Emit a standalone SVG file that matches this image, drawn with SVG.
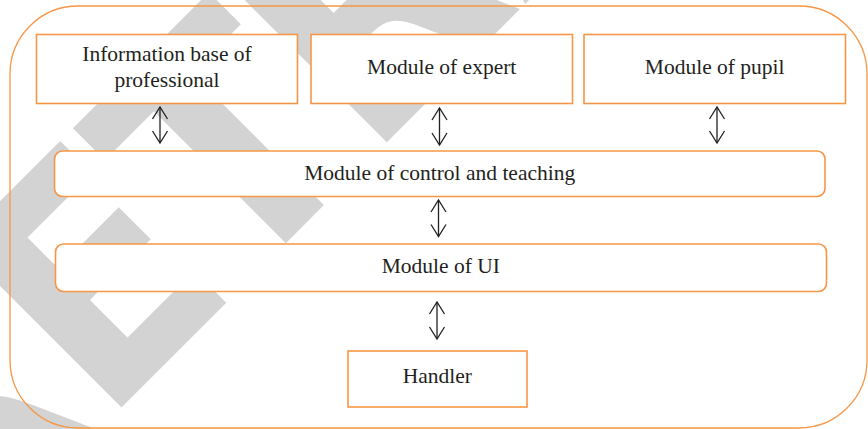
<svg xmlns="http://www.w3.org/2000/svg" width="868" height="429" viewBox="0 0 868 429">
  <style>
    .bg { fill: #ffffff; }
    .stamp { font-family: "DejaVu Sans", "Liberation Sans", sans-serif; font-weight: bold; font-size: 318px; fill: #d3d3d3; }
    .frame { fill: none; stroke: #f79646; stroke-width: 1.3; }
    .box { fill: #ffffff; stroke: #f79646; stroke-width: 1.6; }
    .label { font-family: "Liberation Serif", "Times New Roman", serif; font-size: 21.5px; fill: #231f20; text-anchor: middle; }
    .link { fill: none; stroke: #231f20; stroke-width: 1.3; marker-start: url(#head); marker-end: url(#head); }
  </style>
  <defs>
    <marker id="head" markerUnits="userSpaceOnUse" viewBox="-14 -9 16 18" markerWidth="16" markerHeight="18" refX="0" refY="0" orient="auto-start-reverse" overflow="visible">
      <path d="M-12,-7.5 L0,0 L-12,7.5" fill="none" stroke="#231f20" stroke-width="1.3"/>
    </marker>
  </defs>

  <rect class="bg" x="0" y="0" width="868" height="429"/>

  <!-- diagonal grey stamp behind the chart, baseline running up to the right -->
  <g id="stamp">
    <text class="stamp" transform="translate(264.5,264.5) rotate(-45) scale(0.9,1)" x="-499 -254 -45 163" y="0">RETRACTED</text>
  </g>

  <!-- outer frame -->
  <rect class="frame" x="10" y="6" width="857" height="422" rx="68" ry="68"/>

  <g id="info-base">
    <rect class="box" x="36.5" y="34.5" width="261" height="69"/>
    <text class="label" x="167" y="61">Information base of</text>
    <text class="label" x="167" y="87">professional</text>
  </g>
  <g id="expert">
    <rect class="box" x="311" y="34.5" width="261.5" height="69"/>
    <text class="label" x="441.7" y="74">Module of expert</text>
  </g>
  <g id="pupil">
    <rect class="box" x="584" y="34.5" width="261.5" height="69"/>
    <text class="label" x="714.7" y="74">Module of pupil</text>
  </g>
  <g id="control">
    <rect class="box" x="54.5" y="151" width="770.5" height="45.5" rx="8" ry="8"/>
    <text class="label" x="439.7" y="179.5">Module of control and teaching</text>
  </g>
  <g id="ui">
    <rect class="box" x="55.5" y="244" width="771" height="47.5" rx="8" ry="8"/>
    <text class="label" x="440.8" y="273">Module of UI</text>
  </g>
  <g id="handler">
    <rect class="box" x="348" y="351" width="179" height="56"/>
    <text class="label" x="437.3" y="383.3">Handler</text>
  </g>

  <g id="connectors">
    <line class="link" x1="160" y1="107" x2="160" y2="143"/>
    <line class="link" x1="439.5" y1="108" x2="439.5" y2="145"/>
    <line class="link" x1="717" y1="107" x2="717" y2="143"/>
    <line class="link" x1="438.5" y1="200" x2="438.5" y2="236.5"/>
    <line class="link" x1="437" y1="302" x2="437" y2="339"/>
  </g>
</svg>
